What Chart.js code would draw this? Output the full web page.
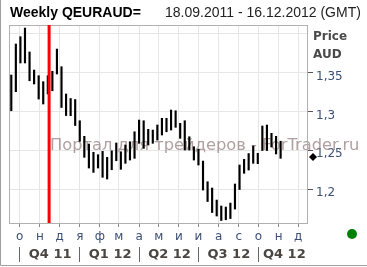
<!DOCTYPE html>
<html>
<head>
<meta charset="utf-8">
<script src="https://cdn.jsdelivr.net/npm/chart.js@4"></script>
<style>
html,body{margin:0;padding:0;background:#fff;}
#wrap{width:367px;height:267px;position:relative;}
</style>
</head>
<body>
<div id="wrap"><canvas id="quoteChart" width="367" height="267"></canvas></div>
<script>
// weekly bars, first one starts 18.09.2011
const firstWeek = "2011-09-18";
const lastDay = "2012-12-16";
const highs = [1.3471,1.3871,1.3965,1.4077,1.3768,1.3535,1.3462,1.3385,1.3462,1.3519,
               1.3806,1.3578,1.3226,1.3168,1.3155,1.2881,1.2680,1.2581,1.2474,1.2443,
               1.2486,1.2409,1.2494,1.2594,1.2481,1.2568,1.2610,1.2739,1.2890,1.2881,
               1.2770,1.2761,1.2826,1.2912,1.2912,1.3019,1.3010,1.2848,1.2881,1.2675,
               1.2546,1.2512,1.2361,1.2094,1.2013,1.1858,1.1781,1.1768,1.1819,1.2065,
               1.2310,1.2383,1.2458,1.2555,1.2461,1.2813,1.2826,1.2719,1.2680,1.2617];
const lows  = [1.3010,1.3256,1.3626,1.3626,1.3397,1.3355,1.3161,1.3097,1.3226,1.3268,
               1.3484,1.3052,1.2948,1.2946,1.2819,1.2615,1.2409,1.2271,1.2215,1.2271,
               1.2151,1.2129,1.2249,1.2365,1.2254,1.2332,1.2374,1.2396,1.2590,1.2525,
               1.2568,1.2590,1.2632,1.2697,1.2739,1.2761,1.2796,1.2654,1.2503,1.2503,
               1.2374,1.2310,1.1987,1.1839,1.1697,1.1652,1.1594,1.1604,1.1619,1.1742,
               1.1994,1.2203,1.2245,1.2332,1.2327,1.2497,1.2497,1.2542,1.2452,1.2396];
const monthStarts = ["2011-10-01","2011-11-01","2011-12-01","2012-01-01","2012-02-01","2012-03-01",
                     "2012-04-01","2012-05-01","2012-06-01","2012-07-01","2012-08-01","2012-09-01",
                     "2012-10-01","2012-11-01","2012-12-01"];
const monthLabels = ["о","н","д","я","ф","м","а","м","и","и","а","с","о","н","д"];
const quarterStarts = ["2011-10-01","2012-01-01","2012-04-01","2012-07-01","2012-10-01"];
const quarterLabels = ["Q4 11","Q1 12","Q2 12","Q3 12","Q4 12"];
const priceTicks = [1.2, 1.25, 1.3, 1.35, 1.4];
const yMin = 1.1562, yMax = 1.4116;
const markerDate = "2011-11-15";
const lastPrice = 1.2414;

function dayNo(s) {
    const p = s.split("-").map(Number);
    const b = firstWeek.split("-").map(Number);
    return (Date.UTC(p[0], p[1]-1, p[2]) - Date.UTC(b[0], b[1]-1, b[2])) / 86400000;
}

const bars = highs.map((h, i) => ({x: i*7, y: [lows[i], h]}));
const monthDays = monthStarts.map(dayNo);
const quarterDays = quarterStarts.map(dayNo);

const txtColor = "#3d4f73";

const decor = {
    id: "decor",
    beforeDatasetsDraw(chart) {
        const ctx = chart.ctx;
        ctx.save();
        ctx.font = '16.3px "DejaVu Sans"';
        ctx.fillStyle = "rgba(150,128,128,0.75)";
        ctx.textBaseline = "middle";
        ctx.fillText("Портал для трейдеров - ForTrader.ru", 50, 146);
        ctx.restore();
    },
    afterDraw(chart) {
        const ctx = chart.ctx;
        const a = chart.chartArea;
        const xs = chart.scales.x, ys = chart.scales.y;
        ctx.save();
        // plot frame
        ctx.strokeStyle = "#b0b0b0";
        ctx.lineWidth = 1;
        ctx.strokeRect(a.left + 0.5, a.top + 0.5, a.right - a.left - 1, a.bottom - a.top);
        // red marker line
        const rx = xs.getPixelForValue(dayNo(markerDate));
        ctx.fillStyle = "#ff0000";
        ctx.fillRect(rx - 1.5, a.top, 3, a.bottom - a.top);
        // last price diamond
        const py = ys.getPixelForValue(lastPrice);
        ctx.fillStyle = "#000";
        ctx.beginPath();
        ctx.moveTo(a.right + 5, py - 4);
        ctx.lineTo(a.right + 9, py);
        ctx.lineTo(a.right + 5, py + 4);
        ctx.lineTo(a.right + 1, py);
        ctx.closePath();
        ctx.fill();
        // titles
        ctx.textBaseline = "middle";
        ctx.fillStyle = "#000";
        ctx.font = 'bold 14px "Liberation Sans"';
        ctx.fillText("Weekly QEURAUD=", 10, 13);
        ctx.font = '14px "Liberation Sans"';
        ctx.fillStyle = "#222";
        ctx.fillText("18.09.2011 - 16.12.2012 (GMT)", 165, 13);
        ctx.font = 'bold 12px "DejaVu Sans"';
        ctx.fillStyle = "#4a4a4a";
        ctx.fillText("Price", 313, 37);
        ctx.fillText("AUD", 313, 55);
        // status dot
        ctx.fillStyle = "#008000";
        ctx.beginPath();
        ctx.arc(352, 234, 5, 0, Math.PI * 2);
        ctx.fill();
        // outer frame
        ctx.strokeStyle = "#a0a0a0";
        ctx.beginPath();
        ctx.moveTo(0.5, 0);
        ctx.lineTo(0.5, 265.5);
        ctx.lineTo(367, 265.5);
        ctx.stroke();
        ctx.restore();
    }
};

new Chart(document.getElementById("quoteChart"), {
    type: "bar",
    data: {
        datasets: [{
            data: bars,
            backgroundColor: "#000",
            barThickness: 1.5
        }]
    },
    options: {
        responsive: false,
        animation: false,
        devicePixelRatio: 1,
        layout: {padding: {left: 9, top: 25, right: 0, bottom: 0}},
        plugins: {legend: {display: false}, tooltip: {enabled: false}},
        scales: {
            x: {
                type: "linear",
                position: "bottom",
                weight: 0,
                offset: false,
                min: dayNo(firstWeek) - 3.5,
                max: dayNo(lastDay),
                afterBuildTicks: (scale) => { scale.ticks = monthDays.map(v => ({value: v})); },
                afterFit: (scale) => { scale.height = 24; },
                grid: {color: "#e6e6e6", tickColor: "#888", tickLength: 4, offset: false},
                border: {display: false},
                ticks: {
                    autoSkip: false,
                    maxRotation: 0,
                    padding: 3,
                    color: txtColor,
                    font: {family: "DejaVu Sans", size: 12},
                    callback: (v, i) => monthLabels[i]
                }
            },
            xq: {
                type: "linear",
                position: "bottom",
                weight: 1,
                offset: false,
                min: dayNo(firstWeek) - 3.5,
                max: dayNo(lastDay),
                afterBuildTicks: (scale) => { scale.ticks = quarterDays.map(v => ({value: v})); },
                afterFit: (scale) => { scale.height = 20; },
                grid: {drawOnChartArea: false, offset: false, tickColor: "#666", tickLength: 15, tickWidth: 1},
                border: {display: false},
                ticks: {
                    autoSkip: false,
                    maxRotation: 0,
                    align: "start",
                    padding: -15,
                    color: "#4a4540",
                    font: {family: "DejaVu Sans", size: 13, weight: "bold"},
                    callback: (v, i) => (i === quarterLabels.length - 1 ? " " : "  ") + quarterLabels[i]
                }
            },
            y: {
                position: "right",
                min: yMin,
                max: yMax,
                afterBuildTicks: (scale) => { scale.ticks = priceTicks.map(v => ({value: v})); },
                afterFit: (scale) => { scale.width = 59; },
                grid: {
                    color: "#e6e6e6",
                    tickLength: 5,
                    tickColor: (c) => (c.tick && c.tick.value >= 1.4 ? "rgba(0,0,0,0)" : "#555")
                },
                border: {display: false},
                ticks: {
                    padding: 3,
                    autoSkip: false,
                    color: txtColor,
                    font: {family: "DejaVu Sans", size: 12, lineHeight: "8px"},
                    callback: (v) => (v >= 1.4 ? "" : ["", String(Math.round(v * 100) / 100).replace(".", ",")])
                }
            }
        }
    },
    plugins: [decor]
});
</script>
</body>
</html>
